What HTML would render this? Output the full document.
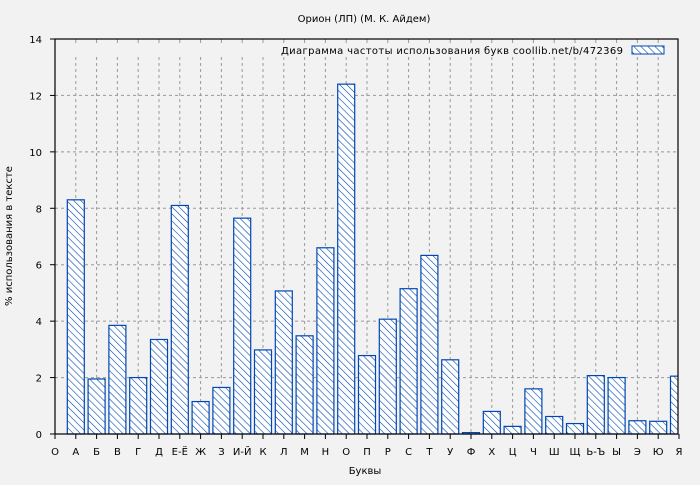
<!DOCTYPE html>
<html><head><meta charset="utf-8"><style>body{margin:0;background:#f2f2f2}</style></head><body>
<svg id="s" width="700" height="480" xmlns="http://www.w3.org/2000/svg" font-family="'DejaVu Sans','Liberation Sans',sans-serif" font-size="10">
<defs><pattern id="h" width="5" height="5" patternUnits="userSpaceOnUse" patternTransform="rotate(-45)"><rect width="5" height="5" fill="#fff"/><line x1="0" y1="0" x2="0" y2="5" stroke="#0047b3" stroke-width="1.2"/></pattern>
<clipPath id="c"><rect x="55" y="39" width="623" height="396"/></clipPath></defs>
<rect width="700" height="480" fill="#f2f2f2"/>
<g id="g"></g>
<text x="364" y="22" text-anchor="middle">Орион (ЛП) (М. К. Айдем)</text>
<text x="365" y="474" text-anchor="middle">Буквы</text>
<text transform="translate(12,236) rotate(-90)" text-anchor="middle">% использования в тексте</text>
<text x="281" y="54" textLength="342" lengthAdjust="spacing">Диаграмма частоты использования букв  coollib.net/b/472369</text>
<rect x="632" y="46" width="32" height="8" fill="url(#h)" stroke="#0047b3"/>
</svg>
<script>
var g=document.getElementById('g'),h='';
var labs=['О','А','Б','В','Г','Д','Е-Ё','Ж','З','И-Й','К','Л','М','Н','О','П','Р','С','Т','У','Ф','Х','Ц','Ч','Ш','Щ','Ь-Ъ','Ы','Э','Ю','Я'];
var v=[null,8.3,1.95,3.85,2.0,3.35,8.1,1.15,1.65,7.65,2.98,5.07,3.48,6.6,12.4,2.78,4.07,5.15,6.33,2.63,0.05,0.8,0.27,1.6,0.62,0.37,2.07,2.0,0.47,0.45,2.05];
function Y(t){return 434-t*395/14;}
for(var k=1;k<7;k++){var y=Y(k*2);h+='<line x1="55" x2="678" y1="'+y+'" y2="'+y+'" stroke="#999" stroke-dasharray="3,3"/>';}
for(var i=0;i<31;i++){var x=55+i*20.8;
 if(i>0&&i<30)h+='<line x1="'+x+'" x2="'+x+'" y1="57" y2="434" stroke="#999" stroke-dasharray="3,3"/><line x1="'+x+'" x2="'+x+'" y1="39" y2="43" stroke="#999"/>';
 h+='<line x1="'+x+'" x2="'+x+'" y1="434" y2="439" stroke="#000"/>';
 h+='<text x="'+x+'" y="455" text-anchor="middle">'+labs[i]+'</text>';}
for(var k=0;k<8;k++){var y=Y(k*2);h+='<line x1="50" x2="55" y1="'+y+'" y2="'+y+'" stroke="#000"/><text x="42" y="'+(y+4)+'" text-anchor="end">'+(k*2)+'</text>';}
h+='<g clip-path="url(#c)">';
for(var i=1;i<31;i++){var x=55+i*20.8-8.5,y=Y(v[i]);h+='<rect x="'+x+'" y="'+y+'" width="17" height="'+(434-y)+'" fill="url(#h)" stroke="#0047b3" stroke-width="1.2"/>';}
h+='</g><rect x="55" y="39" width="623" height="395" fill="none" stroke="#000" stroke-width="1.2"/>';
g.innerHTML=h;
</script>
</body></html>
